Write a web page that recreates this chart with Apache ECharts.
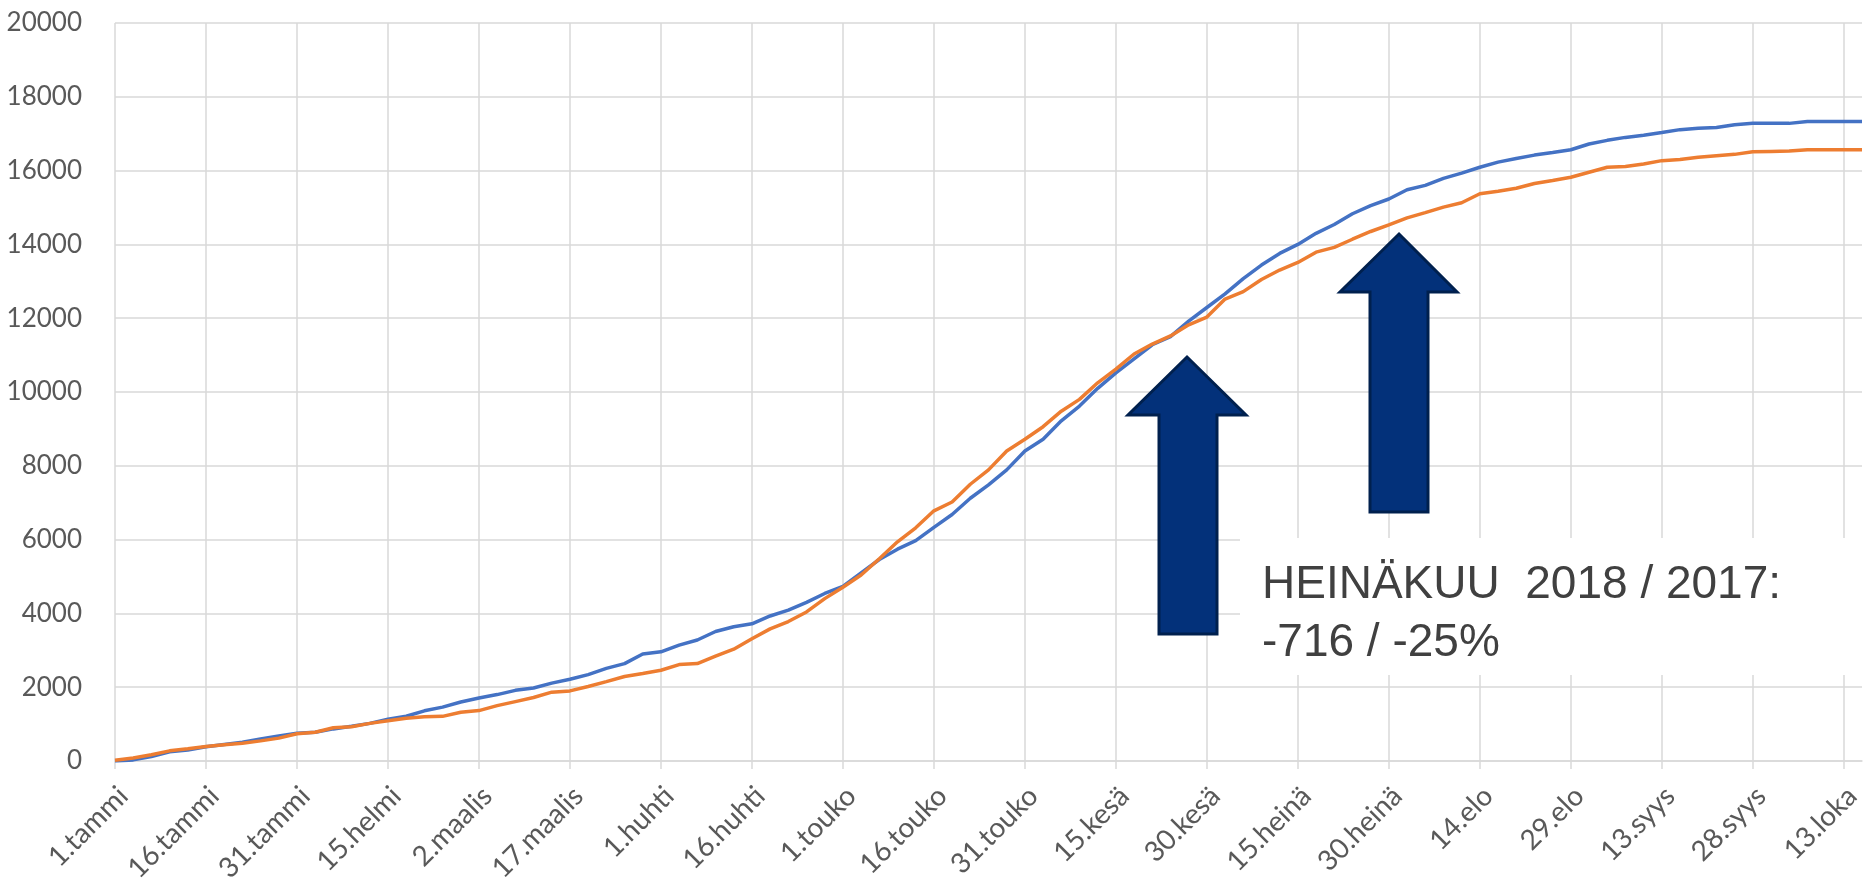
<!DOCTYPE html>
<html>
<head>
<meta charset="utf-8">
<script src="https://cdn.jsdelivr.net/npm/echarts/dist/echarts.min.js"></script>
<style>
  html, body { margin: 0; padding: 0; background: #fff; }
  #chart { width: 1864px; height: 887px; }
</style>
</head>
<body>
<div id="chart"></div>
<script>
// day index from 1.tammi, sampled every 3 days
const days = [
  0, 3, 6, 9, 12, 15, 18, 21, 24, 27, 30, 33, 36, 39, 42, 45, 48, 51, 54, 57,
  60, 63, 66, 69, 72, 75, 78, 81, 84, 87, 90, 93, 96, 99, 102, 105, 108, 111, 114, 117,
  120, 123, 126, 129, 132, 135, 138, 141, 144, 147, 150, 153, 156, 159, 162, 165, 168, 171, 174, 177,
  180, 183, 186, 189, 192, 195, 198, 201, 204, 207, 210, 213, 216, 219, 222, 225, 228, 231, 234, 237,
  240, 243, 246, 249, 252, 255, 258, 261, 264, 267, 270, 273, 276, 279, 282, 285, 288
];

// 2017 (blue)
const values2017 = [
  0, 30, 120, 250, 295, 384, 450, 510, 600, 679, 750, 780, 870, 940, 1020, 1130, 1214, 1360, 1460, 1600,
  1705, 1800, 1915, 1980, 2110, 2215, 2342, 2510, 2640, 2900, 2960, 3140, 3280, 3510, 3640, 3719, 3930, 4090, 4300, 4540,
  4730, 5100, 5460, 5740, 5970, 6330, 6680, 7120, 7485, 7890, 8400, 8720, 9220, 9620, 10100, 10520, 10900, 11280, 11500, 11920,
  12290, 12660, 13070, 13440, 13755, 14000, 14300, 14540, 14830, 15050, 15230, 15480, 15600, 15790, 15930, 16090, 16230, 16330, 16420, 16490,
  16565, 16720, 16820, 16900, 16960, 17030, 17110, 17150, 17170, 17240, 17280, 17280, 17280, 17330, 17330, 17330, 17330
];

// 2018 (orange)
const values2018 = [
  20, 80, 170, 275, 330, 393, 440, 480, 545, 620, 740, 780, 900, 929, 1020, 1090, 1160, 1197, 1210, 1320,
  1366, 1500, 1610, 1720, 1865, 1900, 2020, 2150, 2290, 2370, 2460, 2612, 2640, 2840, 3030, 3314, 3580, 3780, 4040, 4400,
  4710, 5040, 5480, 5940, 6320, 6780, 7020, 7500, 7890, 8400, 8720, 9060, 9480, 9800, 10250, 10620, 11030, 11300, 11520, 11820,
  12030, 12520, 12720, 13050, 13305, 13510, 13790, 13920, 14140, 14350, 14530, 14720, 14860, 15010, 15130, 15372, 15440, 15520, 15650, 15730,
  15820, 15955, 16090, 16110, 16180, 16270, 16300, 16360, 16400, 16440, 16510, 16520, 16530, 16565, 16565, 16565, 16565
];

// labels every 15 days
const tickLabels = [
  "1.tammi", "16.tammi", "31.tammi", "15.helmi", "2.maalis", "17.maalis", "1.huhti",
  "16.huhti", "1.touko", "16.touko", "31.touko", "15.kesä", "30.kesä", "15.heinä",
  "30.heinä", "14.elo", "29.elo", "13.syys", "28.syys", "13.loka"
];

const chart = echarts.init(document.getElementById("chart"), null, { renderer: "canvas" });

const colors = {
  grid: "#d9d9d9",
  label: "#595959",
  s2017: "#4472c4",
  s2018: "#ed7d31",
  arrow: "#03317a",
  arrowEdge: "#00204e",
  note: "#404040",
};

const arrowStyle = { fill: colors.arrow, stroke: colors.arrowEdge, lineWidth: 3 };

const options = {
  animation: false,
  grid: { left: 115, right: 2, top: 23, bottom: 126, outerBoundsMode: "none" },
  xAxis: {
    type: "value",
    min: 0,
    max: 288,
    interval: 15,
    axisLine: { show: true, lineStyle: { color: colors.grid, width: 1.5 } },
    axisTick: { show: true, length: 8, lineStyle: { color: colors.grid, width: 1.5 } },
    splitLine: { show: true, showMaxLine: false, lineStyle: { color: colors.grid, width: 1.5 } },
    axisLabel: {
      rotate: 45,
      margin: 22,
      align: "right",
      verticalAlign: "top",
      lineHeight: 24, // nudges the rotated text slightly right of the tick
      color: colors.label,
      fontFamily: "Lato",
      fontSize: 28,
      showMaxLabel: false,
      formatter: (v) => tickLabels[v / 15] || "",
    },
  },
  yAxis: {
    type: "value",
    min: 0,
    max: 20000,
    interval: 2000,
    axisLine: { show: false },
    axisTick: { show: false },
    splitLine: { lineStyle: { color: colors.grid, width: 1.5 } },
    axisLabel: {
      color: colors.label,
      fontFamily: "Lato",
      fontSize: 26,
      margin: 33,
      formatter: (v) => String(v),
    },
  },
  series: [
    {
      name: "2017",
      type: "line",
      showSymbol: false,
      data: days.map((d, i) => [d, values2017[i]]),
      lineStyle: { color: colors.s2017, width: 3.5 },
      itemStyle: { color: colors.s2017 },
    },
    {
      name: "2018",
      type: "line",
      showSymbol: false,
      data: days.map((d, i) => [d, values2018[i]]),
      lineStyle: { color: colors.s2018, width: 3.5 },
      itemStyle: { color: colors.s2018 },
    },
  ],
  graphic: [
    // note box
    {
      type: "rect",
      shape: { x: 1240, y: 538, width: 624, height: 137 },
      style: { fill: "#ffffff" },
      z: 10,
    },
    {
      type: "text",
      x: 1262,
      y: 585,
      style: {
        text: "HEINÄKUU  2018 / 2017:",
        font: "46px 'Liberation Sans'",
        fill: colors.note,
        verticalAlign: "middle",
      },
      z: 11,
    },
    {
      type: "text",
      x: 1262,
      y: 643,
      style: {
        text: "-716 / -25%",
        font: "46px 'Liberation Sans'",
        fill: colors.note,
        verticalAlign: "middle",
      },
      z: 11,
    },
    // arrows
    {
      type: "polygon",
      shape: { points: [[1187, 357], [1246, 415], [1217, 415], [1217, 634], [1159, 634], [1159, 415], [1128, 415]] },
      style: arrowStyle,
      z: 12,
    },
    {
      type: "polygon",
      shape: { points: [[1399, 234], [1457, 292], [1428, 292], [1428, 512], [1370, 512], [1370, 292], [1340, 292]] },
      style: arrowStyle,
      z: 12,
    },
  ],
};

chart.setOption(options);
</script>
</body>
</html>
